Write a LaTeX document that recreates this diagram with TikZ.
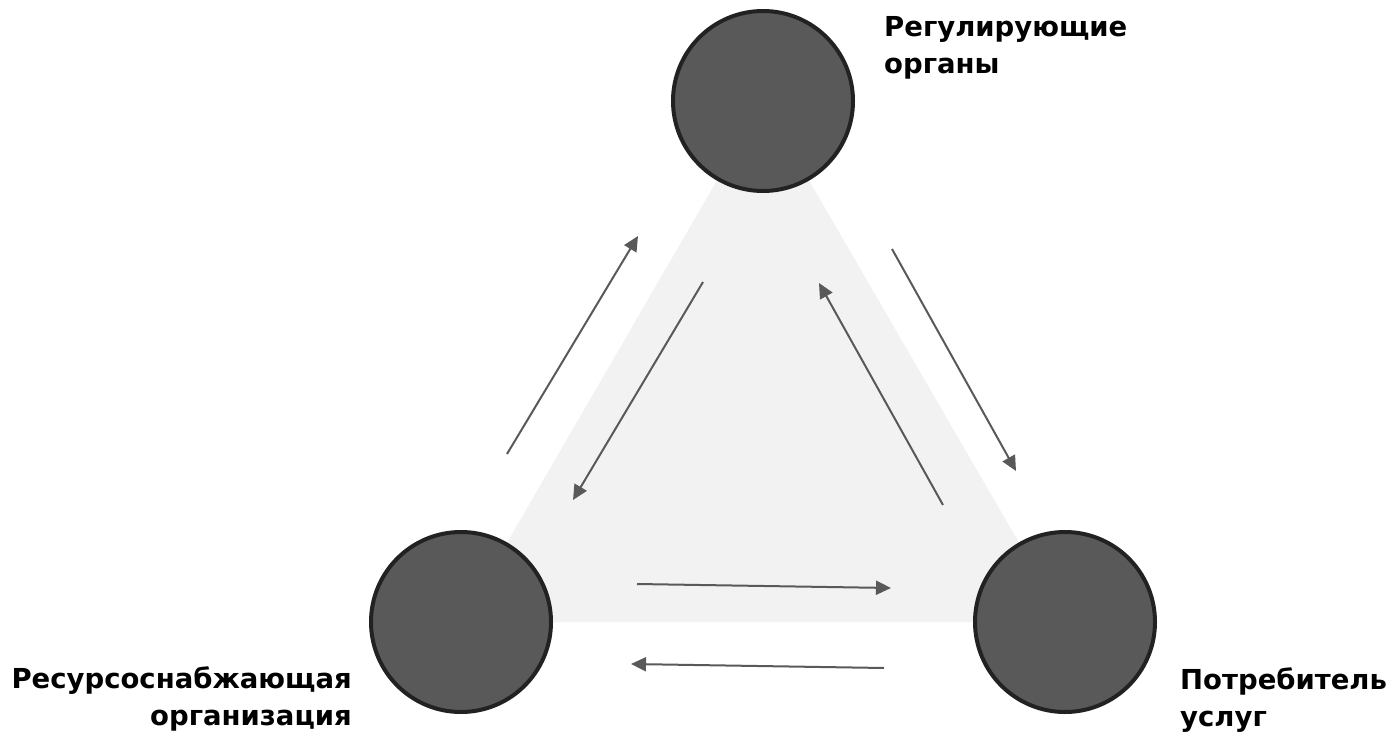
\documentclass[tikz,border=0pt]{standalone}
\usepackage{fontspec}
\setmainfont{DejaVu Sans}
\usetikzlibrary{arrows.meta}
\definecolor{nodefill}{HTML}{595959}
\definecolor{nodeline}{HTML}{222222}
\definecolor{trifill}{HTML}{F2F2F2}
\definecolor{arrowcol}{HTML}{595959}
\tikzset{
  actor/.style={circle, draw=nodeline, fill=nodefill, line width=4pt, minimum size=180pt, inner sep=0pt},
  flow/.style={draw=arrowcol, line width=2pt, -{Triangle[length=15pt,width=14pt]}},
  lab/.style={inner sep=0pt, font=\fontsize{27.5pt}{32pt}\selectfont\bfseries, text=black}
}
\begin{document}
\begin{tikzpicture}[x=1pt,y=-1pt]
\useasboundingbox (0,0) rectangle (1395,733);
\coordinate (tc) at (763,101);
\coordinate (lc) at (461,622);
\coordinate (rc) at (1065,622);
\fill[trifill] (tc) -- (lc) -- (rc) -- cycle;
\node[actor] (reg) at (tc) {};
\node[actor] (res) at (lc) {};
\node[actor] (con) at (rc) {};
% labels
\node[lab, anchor=base west] (reg1) at (884,37) {Регулирующие};
\node[lab, anchor=base west] (reg2) at (884,74) {органы};
\node[lab, anchor=base east] (res1) at (352,688) {Ресурсоснабжающая};
\node[lab, anchor=base east] (res2) at (352,725) {организация};
\node[lab, anchor=base west] (con1) at (1180,689) {Потребитель};
\node[lab, anchor=base west] (con2) at (1180,726) {услуг};
% arrow ends
\coordinate (a1s) at (507,454); \coordinate (a1e) at (638,236);
\coordinate (a2s) at (703,282); \coordinate (a2e) at (573,500);
\coordinate (a3s) at (943,505); \coordinate (a3e) at (819,283);
\coordinate (a4s) at (892,249); \coordinate (a4e) at (1016,471);
\coordinate (a5s) at (637,584); \coordinate (a5e) at (891,588);
\coordinate (a6s) at (884,668); \coordinate (a6e) at (631,664);
\draw[flow] (a1s) -- (a1e);
\draw[flow] (a2s) -- (a2e);
\draw[flow] (a3s) -- (a3e);
\draw[flow] (a4s) -- (a4e);
\draw[flow] (a5s) -- (a5e);
\draw[flow] (a6s) -- (a6e);
\end{tikzpicture}
\end{document}
